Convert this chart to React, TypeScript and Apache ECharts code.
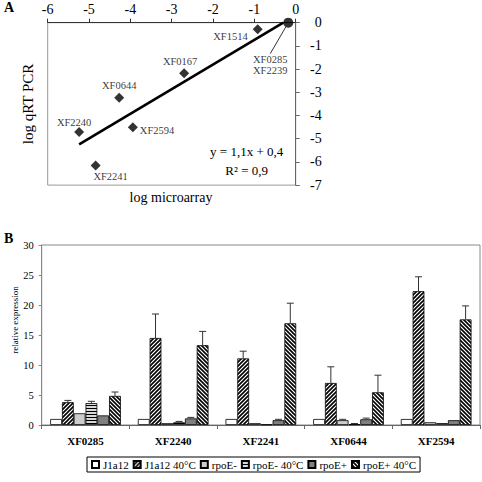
import React, { useEffect, useRef } from "react";
import * as echarts from "echarts";

// ---------- Panel A data (log microarray vs log qRT PCR) ----------
const pointNames = ["XF1514", "XF0167", "XF0644", "XF2240", "XF2594", "XF2241"];
const pointX = [-0.92, -2.7, -4.27, -5.24, -3.94, -4.84];
const pointY = [-0.28, -2.18, -3.23, -4.71, -4.51, -6.16];
const overlapNames = ["XF0285", "XF2239"];
const overlapX = [-0.18];
const overlapY = [0];
const fitX = [-5.24, -0.3];
const fitY = [-5.24, 0];
const equationText = "y = 1,1x + 0,4";
const r2Text = "R² = 0,9";

// ---------- Panel B data (relative expression) ----------
const genes = ["XF0285", "XF2240", "XF2241", "XF0644", "XF2594"];
const seriesNames = ["J1a12", "J1a12 40°C", "rpoE-", "rpoE- 40°C", "rpoE+", "rpoE+ 40°C"];
const valJ1a12 = [1, 1, 1, 1, 1];
const valJ1a12_40 = [3.8, 14.5, 11.1, 7.0, 22.3];
const valRpoEm = [1.95, 0.3, 0.3, 0.8, 0.45];
const valRpoEm_40 = [3.65, 0.45, 0.1, 0.15, 0.3];
const valRpoEp = [1.6, 1.1, 0.8, 0.95, 0.8];
const valRpoEp_40 = [4.85, 13.3, 16.95, 5.45, 17.6];
const errJ1a12 = [0, 0, 0, 0, 0];
const errJ1a12_40 = [0.3, 4.0, 1.2, 2.7, 2.4];
const errRpoEm = [0, 0, 0, 0.15, 0];
const errRpoEm_40 = [0.3, 0.15, 0, 0.1, 0];
const errRpoEp = [0, 0.17, 0.15, 0.2, 0];
const errRpoEp_40 = [0.65, 2.3, 3.35, 2.85, 2.25];

const FONT = "Liberation Serif, Times New Roman, serif";
const CAT_GAP = 0.194;

function makePattern(kind: string, bg = "#fff", fg = "#000") {
  const w = kind === "h" ? 3 : 4;
  const h = kind === "h" ? 3 : 4;
  const c = document.createElement("canvas");
  c.width = w;
  c.height = h;
  const ctx = c.getContext("2d")!;
  ctx.fillStyle = bg;
  ctx.fillRect(0, 0, w, h);
  ctx.strokeStyle = fg;
  ctx.fillStyle = fg;
  ctx.lineWidth = 1.6;
  ctx.beginPath();
  if (kind === "fwd") {
    ctx.moveTo(-1, 5); ctx.lineTo(5, -1);
    ctx.moveTo(-1, 1); ctx.lineTo(1, -1);
    ctx.moveTo(3, 5); ctx.lineTo(5, 3);
    ctx.stroke();
  } else if (kind === "back") {
    ctx.moveTo(-1, -1); ctx.lineTo(5, 5);
    ctx.moveTo(3, -1); ctx.lineTo(5, 1);
    ctx.moveTo(-1, 3); ctx.lineTo(1, 5);
    ctx.stroke();
  } else if (kind === "h") {
    ctx.fillRect(0, 0, w, 1);
  }
  return { image: c.toDataURL(), repeat: "repeat", imageWidth: w, imageHeight: h } as any;
}

const labelPlacement: Record<string, any> = {
  XF1514: { position: "left", distance: 5, offset: [0, 7] },
  XF0167: { position: "top", distance: 1, offset: [-4, 0] },
  XF0644: { position: "top", distance: 2, offset: [0, 0] },
  XF2240: { position: "top", distance: 0, offset: [-5, 1] },
  XF2594: { position: "right", distance: 2, offset: [0, 3] },
  XF2241: { position: "bottom", distance: 0, offset: [15, 0] },
};

export default function App() {
  const ref = useRef<HTMLDivElement>(null);

  useEffect(() => {
    if (!ref.current) return;
    const chart = echarts.init(ref.current, undefined, { renderer: "svg" });

    const barValues = [valJ1a12, valJ1a12_40, valRpoEm, valRpoEm_40, valRpoEp, valRpoEp_40];
    const barErrors = [errJ1a12, errJ1a12_40, errRpoEm, errRpoEm_40, errRpoEp, errRpoEp_40];
    const barColors: any[] = [
      "#ffffff",
      makePattern("fwd"),
      "#cccccc",
      makePattern("h", "#d8d8d8", "#000"),
      "#808080",
      makePattern("back"),
    ];

    const errData: number[][] = [];
    barValues.forEach((vals, s) => {
      vals.forEach((v, c) => {
        const e = barErrors[s][c];
        if (e > 0) errData.push([c, s, v + e, v]);
      });
    });

    const option: any = {
      animation: false,
      backgroundColor: "#fff",
      textStyle: { fontFamily: FONT, color: "#000" },
      grid: [
        { left: 47.7, top: 22.7, width: 248, height: 162.4, show: true, borderColor: "#999", borderWidth: 1, containLabel: false, outerBoundsMode: "none" },
        { left: 41.7, top: 245, right: 2, bottom: 57, show: true, borderColor: "#888", borderWidth: 1, containLabel: false, outerBoundsMode: "none" },
      ],
      xAxis: [
        {
          type: "value", gridIndex: 0, position: "top", min: -6, max: 0, interval: 1,
          splitLine: { show: false },
          axisLine: { show: true, onZero: false, lineStyle: { color: "#333", width: 1 } },
          axisTick: { show: true, length: 4, inside: false, lineStyle: { color: "#333" } },
          axisLabel: { fontSize: 14, color: "#000", fontFamily: FONT, margin: 6 },
        },
        {
          type: "category", gridIndex: 1, data: genes,
          axisLine: { show: true, lineStyle: { color: "#666" } },
          axisTick: { show: true, length: 4, alignWithLabel: false, lineStyle: { color: "#666" } },
          axisLabel: { fontSize: 11, fontWeight: "bold", color: "#000", fontFamily: FONT, margin: 10 },
        },
      ],
      yAxis: [
        {
          type: "value", gridIndex: 0, position: "right", min: -7, max: 0, interval: 1,
          splitLine: { show: false },
          axisLine: { show: true, onZero: false, lineStyle: { color: "#666", width: 1 } },
          axisTick: { show: true, length: 4, lineStyle: { color: "#666" } },
          axisLabel: { fontSize: 14, color: "#000", fontFamily: FONT, margin: 26, align: "right" },
        },
        {
          type: "value", gridIndex: 1, min: 0, max: 30, interval: 5,
          splitLine: { show: false },
          axisLine: { show: true, lineStyle: { color: "#888" } },
          axisTick: { show: true, length: 3, lineStyle: { color: "#888" } },
          axisLabel: { fontSize: 10.5, color: "#000", fontFamily: FONT, margin: 8 },
        },
      ],
      legend: {
        data: seriesNames,
        left: 87,
        top: 457,
        itemWidth: 7,
        itemHeight: 7,
        itemGap: 4,
        icon: "rect",
        borderColor: "#000",
        borderWidth: 1,
        padding: [2, 4],
        textStyle: { fontFamily: FONT, fontSize: 11, color: "#000", padding: [0, 0, 0, -1] },
      },
      series: [
        {
          type: "line", xAxisIndex: 0, yAxisIndex: 0, silent: true, z: 2,
          data: fitX.map((x, i) => [x, fitY[i]]),
          symbol: "none",
          lineStyle: { color: "#000", width: 2.6 },
        },
        {
          type: "scatter", xAxisIndex: 0, yAxisIndex: 0, z: 3,
          symbol: "diamond", symbolSize: 10,
          itemStyle: { color: "#000" },
          label: { show: true, formatter: "{b}", fontSize: 10.5, color: "#000", fontFamily: FONT },
          data: pointNames.map((n, i) => ({ name: n, value: [pointX[i], pointY[i]], label: labelPlacement[n] })),
        },
        {
          type: "scatter", xAxisIndex: 0, yAxisIndex: 0, z: 3,
          symbol: "circle", symbolSize: 10,
          itemStyle: { color: "#000" },
          label: { show: true, position: "inside", formatter: "{b}", fontSize: 10.5, lineHeight: 11, color: "#000", fontFamily: FONT },
          labelLayout: { dx: -18, dy: 42 },
          labelLine: { show: true, lineStyle: { color: "#000", width: 0.8 } },
          data: overlapX.map((x, i) => ({ name: overlapNames.join("\n"), value: [x, overlapY[i]] })),
        },
        ...seriesNames.map((name, s) => ({
          type: "bar", name, xAxisIndex: 1, yAxisIndex: 1,
          barGap: "0%", barCategoryGap: CAT_GAP * 100 + "%",
          itemStyle: { color: barColors[s], borderColor: "#000", borderWidth: 0.8 },
          data: barValues[s],
        })),
        {
          type: "custom", xAxisIndex: 1, yAxisIndex: 1, z: 5, silent: true,
          encode: { x: 0, y: 2 },
          data: errData,
          renderItem: (params: any, api: any) => {
            const ci = api.value(0);
            const si = api.value(1);
            const top = api.value(2);
            const base = api.value(3);
            const band = api.size([1, 0])[0];
            const groupW = band * (1 - CAT_GAP);
            const bw = groupW / 6;
            const p0 = api.coord([ci, base]);
            const x = p0[0] - groupW / 2 + bw * (si + 0.5);
            const yTop = api.coord([ci, top])[1];
            return {
              type: "group",
              children: [
                { type: "line", shape: { x1: x, y1: p0[1], x2: x, y2: yTop }, style: { stroke: "#333", lineWidth: 1 } },
                { type: "line", shape: { x1: x - 3.5, y1: yTop, x2: x + 3.5, y2: yTop }, style: { stroke: "#333", lineWidth: 1 } },
              ],
            };
          },
        },
      ],
      graphic: [
        { type: "text", left: 4, top: 0, style: { text: "A", font: `bold 14px ${FONT}`, fill: "#000" } },
        { type: "text", left: 4, top: 231, style: { text: "B", font: `bold 14px ${FONT}`, fill: "#000" } },
        { type: "text", x: 28, y: 104, rotation: Math.PI / 2, style: { text: "log qRT PCR", font: `15px ${FONT}`, fill: "#000", align: "center", verticalAlign: "middle" } },
        { type: "text", x: 171, y: 197, style: { text: "log microarray", font: `14px ${FONT}`, fill: "#000", align: "center", verticalAlign: "middle" } },
        { type: "text", x: 246.7, y: 151.7, style: { text: equationText, font: `13px ${FONT}`, fill: "#000", align: "center", verticalAlign: "middle" } },
        { type: "text", x: 246.7, y: 170, style: { text: r2Text, font: `13px ${FONT}`, fill: "#000", align: "center", verticalAlign: "middle" } },
        { type: "text", x: 15, y: 320, rotation: Math.PI / 2, style: { text: "relative expression", font: `9px ${FONT}`, fill: "#000", align: "center", verticalAlign: "middle" } },
      ],
    };

    chart.setOption(option);
    return () => chart.dispose();
  }, []);

  return <div ref={ref} style={{ position: "fixed", left: 0, top: 0, width: 482, height: 482 }} />;
}
